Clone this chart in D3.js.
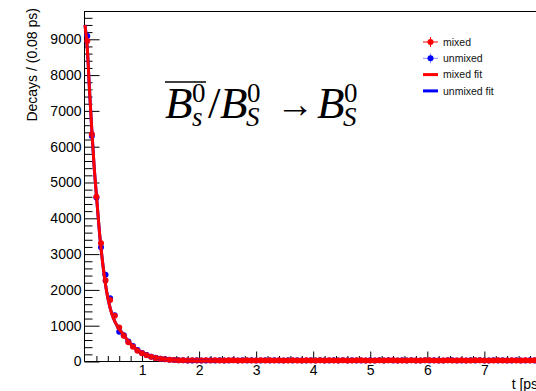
<!DOCTYPE html>
<html>
<head>
<meta charset="utf-8">
<script src="https://cdn.jsdelivr.net/npm/d3@7"></script>
<style>
  html, body { margin: 0; padding: 0; background: #fff; }
  svg { display: block; font-family: "Liberation Sans", Arial, sans-serif; }
</style>
</head>
<body>
<svg id="chart"></svg>
<script>
// bins of 0.08 ps starting at t = 0
const binWidth = 0.08;

// decays per bin
const mixed = [
  8950, 6350, 4600, 3300, 2260, 1720, 1280, 950, 720, 540,
  410, 300, 230, 175, 130, 100, 78, 62, 50, 42,
  36, 32, 30, 34, 28, 31, 35, 29, 33, 30,
  27, 32, 36, 30, 28, 33, 31, 29, 34, 30,
  32, 28, 35, 31, 29, 33, 30, 27, 34, 31,
  29, 32, 30, 35, 28, 31, 33, 30, 29, 32,
  34, 28, 31, 30, 33, 29, 32, 35, 30, 28,
  31, 33, 29, 30, 34, 32, 28, 31, 30, 33,
  29, 31, 34, 30, 28, 32, 33, 29, 31, 30,
  32, 28, 30, 34, 31, 29, 33, 30, 32, 31
];
const unmixed = [
  9090, 6300, 4580, 3190, 2420, 1770, 1290, 830, 730, 560,
  430, 320, 240, 180, 135, 104, 80, 64, 52, 44,
  38, 33, 31, 29, 34, 30, 27, 33, 31, 36,
  30, 28, 33, 31, 35, 29, 32, 30, 27, 34,
  31, 33, 29, 30, 36, 28, 32, 31, 29, 33,
  30, 34, 28, 31, 32, 29, 35, 30, 33, 28,
  31, 30, 34, 29, 32, 27, 33, 31, 30, 35,
  29, 32, 30, 28, 33, 31, 34, 29, 30, 32,
  33, 28, 31, 30, 35, 29, 32, 31, 28, 34,
  30, 33, 29, 31, 32, 30, 28, 34, 31, 30
];

// fitted curves
const fitT     = [0, 0.04, 0.08, 0.12, 0.16, 0.2, 0.26, 0.32, 0.38, 0.44, 0.5, 0.58, 0.68, 0.76, 0.84, 0.92, 1.0, 1.1, 1.2, 1.4, 1.6, 1.8, 2.0, 2.5, 3, 4, 5, 6, 7, 8];
const mixedFit = [9400, 8750, 7550, 6450, 5450, 4650, 3500, 2620, 1950, 1500, 1200, 950, 740, 560, 430, 320, 245, 175, 130, 70, 38, 20, 11, 3, 1, 0, 0, 0, 0, 0];
const unmixedFit = [9400, 8750, 7550, 6450, 5450, 4650, 3500, 2620, 1950, 1500, 1200, 950, 740, 560, 430, 320, 245, 175, 130, 70, 38, 20, 11, 3, 1, 0, 0, 0, 0, 0];

const yMajor = [0, 1000, 2000, 3000, 4000, 5000, 6000, 7000, 8000, 9000];
const xMajor = [1, 2, 3, 4, 5, 6, 7];

const legendItems = [
  { label: "mixed", color: "#ff0000", kind: "marker" },
  { label: "unmixed", color: "#0000ff", kind: "marker" },
  { label: "mixed fit", color: "#ff0000", kind: "line" },
  { label: "unmixed fit", color: "#0000ff", kind: "line" }
];

const width = 536, height = 391;
const svg = d3.select("#chart").attr("width", width).attr("height", height);

const x = d3.scaleLinear([0, 8], [85, 85 + 8 * 57.05]);
const y = d3.scaleLinear([0, 9790], [361.5, 11]);

// frame top
svg.append("line")
   .attr("x1", 84.5).attr("x2", width)
   .attr("y1", 11.5).attr("y2", 11.5)
   .attr("stroke", "#000").attr("stroke-width", 1);

// y axis, minor then major ticks
const yMinor = d3.range(0, 9790, 200).filter(v => v % 1000 !== 0);
svg.append("g")
   .attr("transform", "translate(84.5,0)")
   .call(d3.axisLeft(y).tickValues(yMinor).tickSize(-8).tickSizeOuter(0).tickFormat(""))
   .call(g => g.select(".domain").remove());
svg.append("g")
   .attr("transform", "translate(84.5,0)")
   .call(d3.axisLeft(y).tickValues(yMajor).tickSize(-15).tickSizeOuter(0).tickPadding(3).tickFormat(d3.format("d")))
   .call(g => g.select(".domain").attr("d", `M0,${y(0)}V11`))
   .call(g => g.selectAll("text").attr("font-size", 14).attr("fill", "#000")
               .attr("font-family", "Liberation Sans, Arial, sans-serif"));

// x axis
const xMinor = d3.range(0.2, 8.01, 0.2).filter(v => Math.abs(v - Math.round(v)) > 0.01);
svg.append("g")
   .attr("transform", `translate(0,${y(0)})`)
   .call(d3.axisBottom(x).tickValues(xMinor).tickSize(-5.5).tickSizeOuter(0).tickFormat(""))
   .call(g => g.select(".domain").remove());
svg.append("g")
   .attr("transform", `translate(0,${y(0)})`)
   .call(d3.axisBottom(x).tickValues(xMajor).tickSize(-10).tickSizeOuter(0).tickPadding(4).tickFormat(d3.format("d")))
   .call(g => g.select(".domain").attr("d", `M84.5,0H${width}`))
   .call(g => g.selectAll("text").attr("font-size", 14).attr("fill", "#000")
               .attr("font-family", "Liberation Sans, Arial, sans-serif"));

// axis titles
svg.append("text")
   .attr("transform", "translate(37,8) rotate(-90)")
   .attr("text-anchor", "end")
   .attr("font-size", 14)
   .text("Decays / (0.08 ps)");
svg.append("text")
   .attr("x", 542).attr("y", 389)
   .attr("text-anchor", "end")
   .attr("font-size", 14)
   .text("t [ps]");

// points with error bars
function drawPoints(values, color, barOpacity) {
  const data = values.map((v, i) => ({ t: binWidth * (i + 0.5), v, e: Math.sqrt(v) }));
  const g = svg.append("g");
  g.selectAll("path.err")
   .data(data)
   .join("path")
   .attr("class", "err")
   .attr("fill", "none")
   .attr("stroke", color)
   .attr("stroke-opacity", barOpacity)
   .attr("d", d => `M${x(d.t - binWidth / 2)},${y(d.v)}H${x(d.t + binWidth / 2)}` +
                   `M${x(d.t)},${y(d.v + d.e)}V${y(d.v - d.e)}`);
  g.selectAll("circle")
   .data(data)
   .join("circle")
   .attr("cx", d => x(d.t))
   .attr("cy", d => y(d.v))
   .attr("r", 3)
   .attr("fill", color);
}
drawPoints(unmixed, "#0000ff", 0.45);
drawPoints(mixed, "#ff0000", 1);

// fit curves
const fitLine = d3.line()
                  .x(d => x(d[0]))
                  .y(d => y(d[1]))
                  .curve(d3.curveMonotoneX);
svg.append("path")
   .attr("fill", "none").attr("stroke", "#0000ff").attr("stroke-width", 3)
   .attr("d", fitLine(fitT.map((t, i) => [t, unmixedFit[i]])));
svg.append("path")
   .attr("fill", "none").attr("stroke", "#ff0000").attr("stroke-width", 3)
   .attr("d", fitLine(fitT.map((t, i) => [t, mixedFit[i]])));

// legend
const legend = svg.append("g").selectAll("g")
                  .data(legendItems)
                  .join("g")
                  .attr("transform", (d, i) => `translate(0,${42 + i * 16.3})`);
legend.filter(d => d.kind === "marker")
      .call(g => g.append("path")
                  .attr("stroke", d => d.color)
                  .attr("stroke-opacity", d => d.color === "#0000ff" ? 0.45 : 1)
                  .attr("d", "M423,0H438M430.5,-5V5"))
      .call(g => g.append("circle").attr("cx", 430.5).attr("r", 3).attr("fill", d => d.color));
legend.filter(d => d.kind === "line")
      .append("path")
      .attr("stroke", d => d.color)
      .attr("stroke-width", 3)
      .attr("d", "M423,0H438");
legend.append("text")
      .attr("x", 443).attr("y", 0)
      .attr("dy", "0.35em")
      .attr("font-size", 10.5)
      .attr("fill", "#111")
      .text(d => d.label);

// decay label  B̄s0 / BS0 -> BS0
const formula = svg.append("g")
                   .attr("transform", "translate(165,118)")
                   .attr("font-family", "Liberation Serif, DejaVu Serif, serif");
const big = 45, small = 27;
[
  { txt: "B", dx: 0, dy: 0, size: big, italic: true },
  { txt: "0", dx: 27, dy: -16, size: small, italic: false },
  { txt: "s", dx: 27, dy: 8, size: small, italic: true },
  { txt: "/", dx: 43, dy: 0, size: big, italic: false },
  { txt: "B", dx: 55, dy: 0, size: big, italic: true },
  { txt: "0", dx: 82, dy: -16, size: small, italic: false },
  { txt: "S", dx: 81, dy: 8, size: small, italic: true },
  { txt: "\u2192", dx: 111, dy: -1, size: 38, italic: false },
  { txt: "B", dx: 152, dy: 0, size: big, italic: true },
  { txt: "0", dx: 179, dy: -16, size: small, italic: false },
  { txt: "S", dx: 178, dy: 8, size: small, italic: true }
].forEach(p => {
  formula.append("text")
         .attr("x", p.dx).attr("y", p.dy)
         .attr("font-size", p.size)
         .attr("font-style", p.italic ? "italic" : "normal")
         .text(p.txt);
});
formula.append("line")
       .attr("x1", 0).attr("x2", 41)
       .attr("y1", -36).attr("y2", -36)
       .attr("stroke", "#000").attr("stroke-width", 1.6);
</script>
</body>
</html>
